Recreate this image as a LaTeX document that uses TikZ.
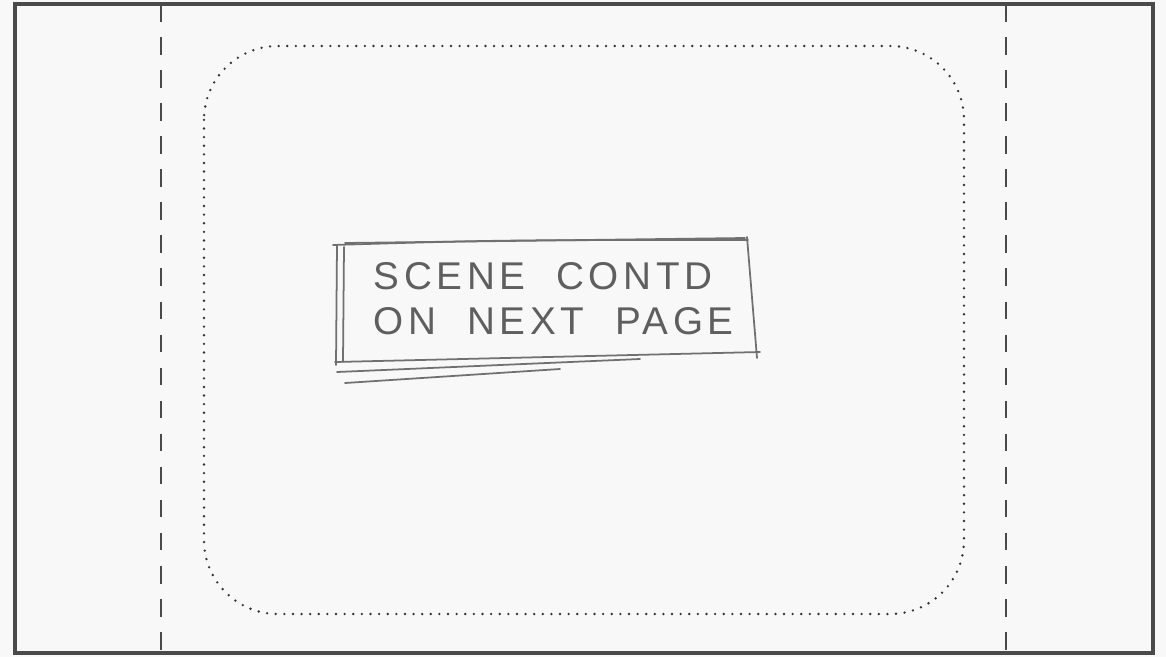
\documentclass[tikz,border=0pt]{standalone}
\usepackage{fontspec}
\newfontfamily\sketchfont[LetterSpace=12]{Liberation Sans}
\usepackage{xcolor}
\usetikzlibrary{positioning}
\definecolor{paper}{HTML}{F8F8F8}
\definecolor{frameink}{HTML}{4A4A4A}
\definecolor{pencil}{HTML}{707070}

\begin{document}
\begin{tikzpicture}[x=0.01cm, y=-0.01cm,
  frame/.style={draw=frameink, line width=1.2pt},
  cutline/.style={draw=frameink, line width=0.6pt, dash pattern=on 5pt off 4.4pt},
  safearea/.style={draw=black!80, line width=0.75pt, line cap=round,
                   dash pattern=on 0pt off 2.45pt, rounded corners=21pt},
  stroke/.style={draw=pencil, line width=0.5pt, line cap=round},
  note/.style={font=\sketchfont\fontsize{11}{15}\selectfont, text=pencil!85!black,
               align=left, inner sep=0pt},
]

% ---- Page ------------------------------------------------------------------
\fill[paper] (0, 0) rectangle (1166, 657);
\useasboundingbox (0, 0) rectangle (1166, 657);
\draw[frame] (15, 4) rectangle (1153, 653);

% ---- Cut lines ---------------------------------------------------------------
\draw[cutline] (161, 4) -- (161, 653);
\draw[cutline] (1006, 4) -- (1006, 653);

% ---- Safe area -------------------------------------------------------------
\draw[safearea] (204, 46) rectangle (964, 614);

% ---- Sketched note box -----------------------------------------------------
\draw[stroke] (333, 245) .. controls (500, 240) .. (748, 240);
\draw[stroke] (345, 243) -- (745, 238);
\draw[stroke] (337, 245) -- (336, 365);
\draw[stroke] (344, 247) -- (343, 362);
\draw[stroke] (747, 237) -- (757, 358);
\draw[stroke] (335, 362) -- (760, 352);
\draw[stroke] (337, 372) -- (640, 359);
\draw[stroke] (345, 383) -- (560, 369);

\node[note, anchor=north west] (scene) at (373, 262) {SCENE\ \ CONTD};
\node[note, below=4.5pt of scene.south west, anchor=north west]
  (page) {ON\ \ NEXT\ \ PAGE};

\end{tikzpicture}
\end{document}
